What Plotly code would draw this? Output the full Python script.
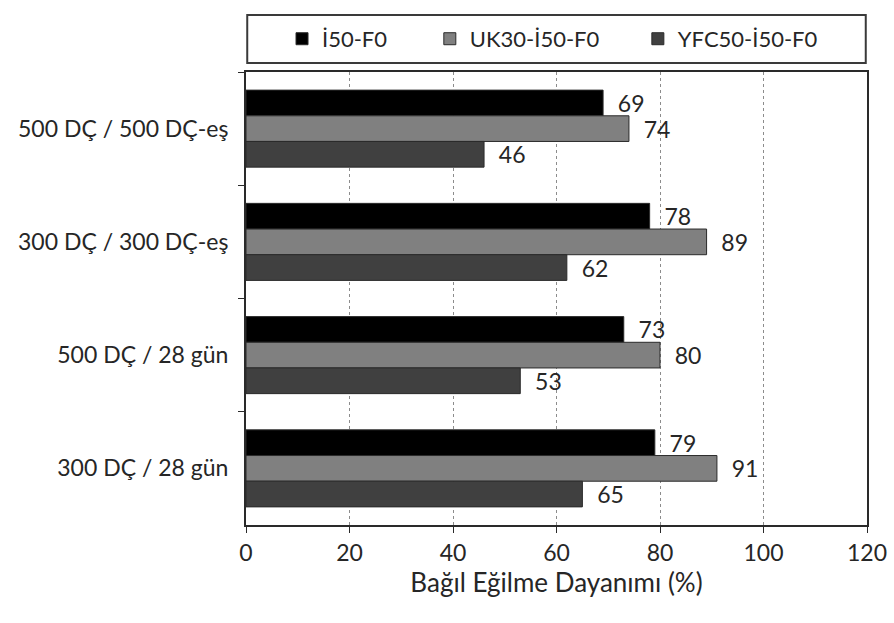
import plotly.graph_objects as go

# Categories listed top to bottom (y axis is reversed)
categories = ["500 DÇ / 500 DÇ-eş", "300 DÇ / 300 DÇ-eş", "500 DÇ / 28 gün", "300 DÇ / 28 gün"]
series_names = ["İ50-F0", "UK30-İ50-F0", "YFC50-İ50-F0"]
i50_f0 = [69, 78, 73, 79]
uk30_i50_f0 = [74, 89, 80, 91]
yfc50_i50_f0 = [46, 62, 53, 65]
x_ticks = [0, 20, 40, 60, 80, 100, 120]

series_values = [i50_f0, uk30_i50_f0, yfc50_i50_f0]
fills = ["#000000", "#808080", "#404040"]
legend_ids = ["legend", "legend2", "legend3"]
legend_x = [0.058, 0.296, 0.631]
FONT = "Lato"
TXT = "#262626"
LEG_Y = 1.073

fig = go.Figure()
for name, vals, col, lid in zip(series_names, series_values, fills, legend_ids):
    fig.add_trace(go.Bar(
        y=categories, x=vals, name=name, orientation="h", legend=lid,
        marker=dict(color=col, line=dict(color="#2a2a2a", width=1)),
        text=vals, texttemplate="  %{x}", textposition="outside",
        constraintext="none", cliponaxis=False,
        textfont=dict(family=FONT, size=23, color=TXT),
    ))

# Frame around the legend row, spanning the plot width
fig.add_shape(type="rect", xref="paper", yref="paper",
              x0=0.002, x1=0.998, y0=1.020, y1=1.126,
              line=dict(color="#3a3a3a", width=2), fillcolor="white", layer="below")

legend_common = dict(orientation="h", xanchor="left", y=LEG_Y, yanchor="middle",
                     font=dict(family=FONT, size=22, color=TXT),
                     bgcolor="rgba(0,0,0,0)", itemwidth=30)

fig.update_layout(
    width=894, height=623,
    margin=dict(l=246, r=27, t=72, b=98, autoexpand=False),
    paper_bgcolor="white", plot_bgcolor="white",
    barmode="group", bargap=0.32, bargroupgap=0.0,
    font=dict(family=FONT, size=23, color=TXT),
    showlegend=True,
    legend=dict(x=legend_x[0], **legend_common),
    legend2=dict(x=legend_x[1], **legend_common),
    legend3=dict(x=legend_x[2], **legend_common),
    xaxis=dict(range=[0, 120], tickvals=x_ticks, ticktext=[str(v) for v in x_ticks],
               showgrid=True, gridcolor="#8c8c8c", griddash="dot", gridwidth=1,
               showline=True, linecolor="#2a2a2a", linewidth=2, mirror=True,
               ticks="outside", ticklen=6, tickcolor="#2a2a2a", tickwidth=1,
               zeroline=False, tickfont=dict(size=23),
               title=dict(text="Bağıl Eğilme Dayanımı (%)", font=dict(size=26), standoff=5)),
    yaxis=dict(categoryorder="array", categoryarray=categories, autorange="reversed",
               showline=True, linecolor="#2a2a2a", linewidth=2, mirror=True,
               ticks="outside", ticklen=6, tickcolor="#2a2a2a", tickson="boundaries",
               showgrid=False, tickfont=dict(size=23), ticklabelstandoff=11),
)

fig.write_html("out.html")
